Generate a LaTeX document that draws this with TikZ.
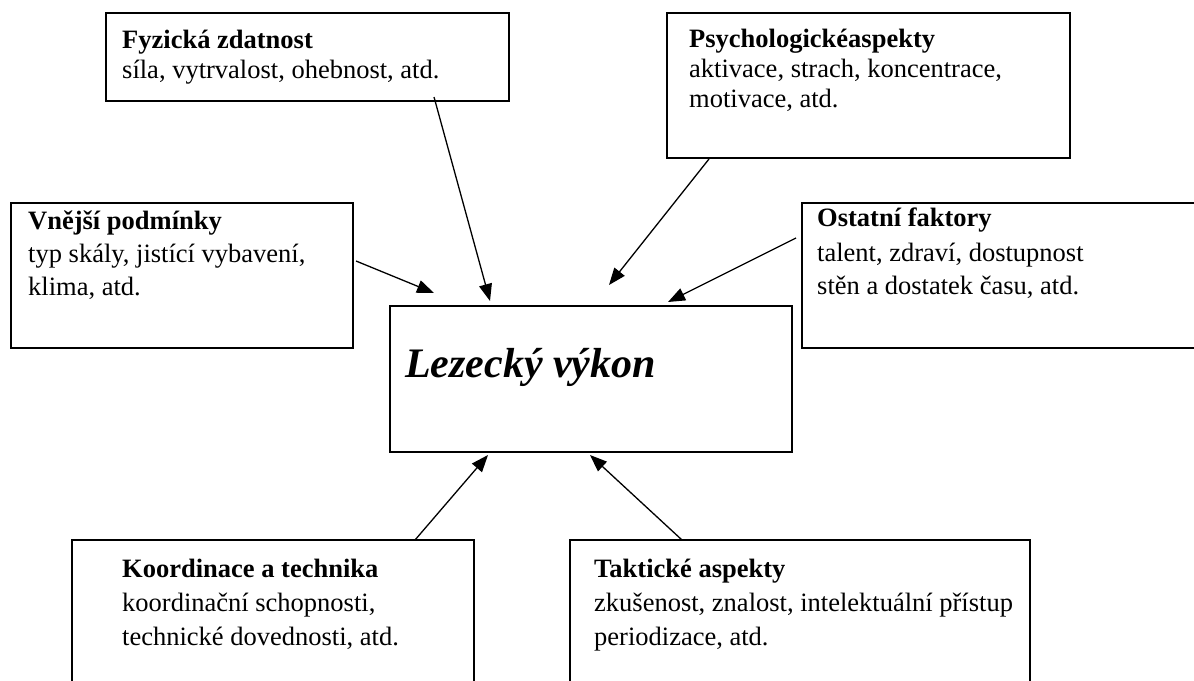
\documentclass[tikz,border=0pt]{standalone}
\usepackage{fontspec}
\setmainfont{Liberation Serif}
\usetikzlibrary{arrows.meta}
\tikzset{
  box/.style={draw, line width=1.5pt, inner sep=0pt, outer sep=0pt, anchor=north west},
  txt/.style={anchor=base west, inner sep=0pt, font=\fontsize{26.5}{30}\selectfont},
  head/.style={anchor=base west, inner sep=0pt, font=\fontsize{26.5}{30}\selectfont\bfseries},
  conn/.style={line width=1.3pt, -{Triangle[length=17pt,width=13pt]}},
}
\begin{document}
\begin{tikzpicture}[x=1pt,y=-1pt]
\useasboundingbox (0,0) rectangle (1194,680);

% boxes
\node[box, minimum width=403pt, minimum height=88pt]  (fyz) at (106,13) {};
\node[box, minimum width=403pt, minimum height=145pt] (psy) at (667,13) {};
\node[box, minimum width=342pt, minimum height=145pt] (vne) at (11,203) {};
\node[box, minimum width=408pt, minimum height=145pt] (ost) at (802,203) {};
\node[box, minimum width=402pt, minimum height=146pt] (lez) at (390,306) {};
\node[box, minimum width=402pt, minimum height=170pt] (koo) at (72,540) {};
\node[box, minimum width=460pt, minimum height=170pt] (tak) at (570,540) {};

% texts
\node[head] (fyz1) at (122,48) {Fyzická zdatnost};
\node[txt]  (fyz2) at (122,78) {síla, vytrvalost, ohebnost, atd.};

\node[head] (psy1) at (689,47) {Psychologickéaspekty};
\node[txt]  (psy2) at (689,77) {aktivace, strach, koncentrace,};
\node[txt]  (psy3) at (689,107) {motivace, atd.};

\node[head] (vne1) at (28,229) {Vnější podmínky};
\node[txt]  (vne2) at (28,262) {typ skály, jistící vybavení,};
\node[txt]  (vne3) at (28,295) {klima, atd.};

\node[head] (ost1) at (817,226) {Ostatní faktory};
\node[txt]  (ost2) at (817,261) {talent, zdraví, dostupnost};
\node[txt]  (ost3) at (817,294) {stěn a dostatek času, atd.};

\node[anchor=base west, inner sep=0pt, font=\fontsize{42}{48}\selectfont\bfseries\itshape] (lez1) at (405,377) {Lezecký výkon};

\node[head] (koo1) at (122,577) {Koordinace a technika};
\node[txt]  (koo2) at (122,611) {koordinační schopnosti,};
\node[txt]  (koo3) at (122,645) {technické dovednosti, atd.};

\node[head] (tak1) at (594,577) {Taktické aspekty};
\node[txt]  (tak2) at (594,611) {zkušenost, znalost, intelektuální přístup};
\node[txt]  (tak3) at (594,645) {periodizace, atd.};

% connector ends
\coordinate (fyzS) at (434,97);
\coordinate (fyzE) at (490,301);
\coordinate (psyS) at (709,159);
\coordinate (psyE) at (609,285);
\coordinate (vneS) at (356,261);
\coordinate (vneE) at (434,293);
\coordinate (ostS) at (796,238);
\coordinate (ostE) at (668,302);
\coordinate (kooS) at (415,540);
\coordinate (kooE) at (488,455);
\coordinate (takS) at (682,540);
\coordinate (takE) at (590,455);

\draw[conn] (fyzS) -- (fyzE);
\draw[conn] (psyS) -- (psyE);
\draw[conn] (vneS) -- (vneE);
\draw[conn] (ostS) -- (ostE);
\draw[conn] (kooS) -- (kooE);
\draw[conn] (takS) -- (takE);
\end{tikzpicture}
\end{document}
